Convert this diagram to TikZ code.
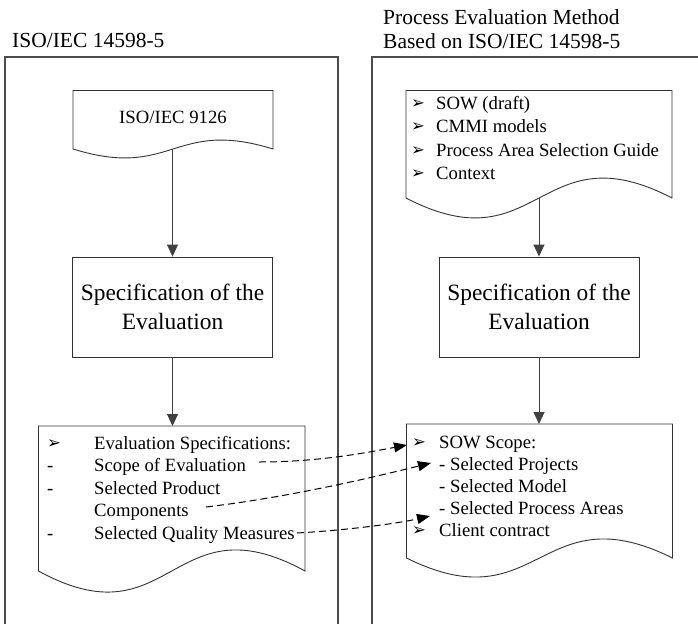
\documentclass[tikz,border=0pt]{standalone}
\usepackage{fontspec}
\setmainfont{Liberation Serif}
\newfontfamily\dejavu{DejaVu Sans}
\usetikzlibrary{arrows.meta}

% bullet used in the lists
\newcommand{\arrowbullet}{{\dejavu\fontsize{16.5}{16.5}\selectfont ➢}}

\begin{document}
\begin{tikzpicture}[x=1pt,y=-1pt,
  frame/.style={draw=black!70, line width=1.1pt},
  docshape/.style={draw=black!80, line width=0.9pt},
  boxstyle/.style={draw=black!80, line width=0.9pt, minimum width=200pt, minimum height=100pt,
    inner sep=0pt, align=center, font=\fontsize{23.4}{28.7}\selectfont},
  flow/.style={draw=black!75, line width=0.9pt, -{Triangle[length=12pt,width=11pt]}},
  link/.style={draw=black, line width=1pt, dash pattern=on 7pt off 4pt,
    -{Triangle[length=13pt,width=10pt]}},
  txt/.style={font=\fontsize{18.7}{22}\selectfont, anchor=base west, inner sep=0pt},
  title/.style={font=\fontsize{21.5}{25}\selectfont, anchor=base west, inner sep=0pt},
  bul/.style={anchor=base west, inner sep=0pt},
]
\useasboundingbox (0,0) rectangle (698,624);

% ---------- column titles ----------
\node[title] (ltitle) at (12,47) {ISO/IEC 14598-5};
\node[title] (rtitle1) at (383,24) {Process Evaluation Method};
\node[title] (rtitle2) at (383,48) {Based on ISO/IEC 14598-5};

% ---------- open frames (bottom edge runs off the page) ----------
\draw[frame] (5,624) -- (5,57) -- (338,57) -- (338,624);
\draw[frame] (372,624) -- (372,57) -- (698,57);

% ---------- left column ----------
% document: ISO/IEC 9126
\draw[docshape] (73,90.5) -- (273,90.5) -- (273,149)
  .. controls (173,118) and (173,180) .. (73,149) -- cycle;
\node[font=\fontsize{18.7}{22}\selectfont, inner sep=0pt] (iso9126) at (173,117) {ISO/IEC 9126};
\coordinate (d1out) at (172.5,149);

\node[boxstyle] (specL) at (172.5,307) {Specification of the\\Evaluation};

% document: evaluation specifications
\draw[docshape] (38.5,426) -- (305,426) -- (305,571)
  .. controls (171.75,498) and (171.75,644) .. (38.5,571) -- cycle;
\coordinate (d2in) at (172.5,426);
\node[bul] (lb1) at (47,448) {\arrowbullet};
\node[txt] (l1) at (94,449) {Evaluation Specifications:};
\node[txt] (ld2) at (47,471) {-};
\node[txt] (l2) at (94,471) {Scope of Evaluation};
\node[txt] (ld3) at (47,494) {-};
\node[txt] (l3) at (94,494) {Selected Product};
\node[txt] (l4) at (94,516) {Components};
\node[txt] (ld5) at (47,539) {-};
\node[txt] (l5) at (94,539) {Selected Quality Measures};

\draw[flow] (d1out) -- (specL.north);
\draw[flow] (specL.south) -- (d2in);

% ---------- right column ----------
% document: inputs
\draw[docshape] (406,90.5) -- (672,90.5) -- (672,198)
  .. controls (539,129) and (539,267) .. (406,198) -- cycle;
\coordinate (d3out) at (539,198);
\node[bul] (rb1) at (411,108) {\arrowbullet};
\node[txt] (r1) at (436,109) {SOW (draft)};
\node[bul] (rb2) at (411,131) {\arrowbullet};
\node[txt] (r2) at (436,132) {CMMI models};
\node[bul] (rb3) at (411,155) {\arrowbullet};
\node[txt] (r3) at (436,156) {Process Area Selection Guide};
\node[bul] (rb4) at (411,178) {\arrowbullet};
\node[txt] (r4) at (436,179) {Context};

\node[boxstyle] (specR) at (539,307) {Specification of the\\Evaluation};

% document: SOW scope
\draw[docshape] (406.5,424) -- (672.5,424) -- (672.5,558)
  .. controls (539.5,492) and (539.5,624) .. (406.5,558) -- cycle;
\coordinate (d4in) at (539,424);
\node[bul] (sb1) at (412,447) {\arrowbullet};
\node[txt] (s1) at (439,448) {SOW Scope:};
\node[txt] (s2) at (439,470) {- Selected Projects};
\node[txt] (s3) at (439,492) {- Selected Model};
\node[txt] (s4) at (439,514) {- Selected Process Areas};
\node[bul] (sb5) at (412,535) {\arrowbullet};
\node[txt] (s5) at (439,536) {Client contract};

\draw[flow] (d3out) -- (specR.north);
\draw[flow] (specR.south) -- (d4in);

% ---------- dashed cross links ----------
\coordinate (fromScope) at (259,462);
\coordinate (toScope) at (407,445);
\coordinate (fromComp) at (206,507);
\coordinate (toProj) at (431,463);
\coordinate (fromQual) at (297,533);
\coordinate (toAreas) at (430,516);

\draw[link] (fromScope) .. controls (320,462) and (370,452) .. (toScope);
\draw[link] (fromComp) .. controls (290,497) and (370,478) .. (toProj);
\draw[link] (fromQual) .. controls (350,530) and (400,523) .. (toAreas);
\end{tikzpicture}
\end{document}
